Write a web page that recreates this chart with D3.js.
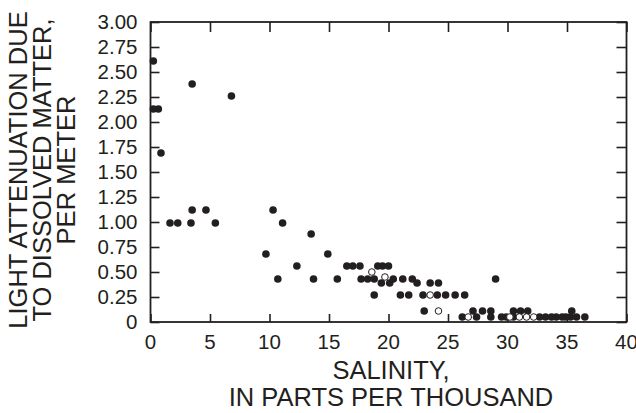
<!DOCTYPE html>
<html><head><meta charset="utf-8">
<script src="https://cdn.jsdelivr.net/npm/d3@7"></script>
<style>body{margin:0;background:#fff}svg text{font-family:"Liberation Sans",Arial,sans-serif;fill:#231f20}</style>
</head><body><svg id="c" width="636" height="413"></svg>
<script>
// Filled circles: [salinity (ppt), attenuation (per m)]
const filledSalinity = [0.24,0.24,0.66,0.88,3.5,6.8,
  1.64,2.29,3.4,5.45,3.5,4.66,10.3,11.1,9.7,10.7,12.3,
  13.5,14.9,13.7,15.7,
  16.5,17.0,17.6,19.1,19.5,20.0,
  17.7,18.25,18.8,20.4,21.2,22.0,
  19.4,20.1,22.4,23.5,24.2,
  18.8,21.0,21.7,22.9,24.1,24.8,25.6,26.4,
  23.0,29.0,
  27.1,27.9,28.6,30.5,31.1,31.7,35.4,
  26.2,27.4,28.6,29.5,29.9,30.5,32.7,33.2,33.7,34.1,34.6,34.9,35.3,35.8,36.5];
const filledAttenuation = [2.61,2.13,2.13,1.69,2.38,2.26,
  0.99,0.99,0.99,0.99,1.12,1.12,1.12,0.99,0.68,0.43,0.56,
  0.88,0.68,0.43,0.43,
  0.56,0.56,0.56,0.56,0.56,0.56,
  0.43,0.43,0.43,0.43,0.43,0.43,
  0.39,0.39,0.39,0.39,0.39,
  0.27,0.27,0.27,0.27,0.27,0.27,0.27,0.27,
  0.11,0.43,
  0.11,0.11,0.11,0.11,0.11,0.11,0.11,
  0.05,0.05,0.05,0.05,0.05,0.05,0.05,0.05,0.05,0.05,0.05,0.05,0.05,0.05,0.05];
// Open circles
const openSalinity = [18.6,19.7,23.5,24.2,26.7,30.2,31.0,31.6,32.2];
const openAttenuation = [0.50,0.45,0.27,0.11,0.05,0.05,0.05,0.05,0.05];

const xTicks = [0,5,10,15,20,25,30,35,40];
const yTicks = [0,0.25,0.5,0.75,1,1.25,1.5,1.75,2,2.25,2.5,2.75,3];
const xTitle = ["SALINITY,","IN PARTS PER THOUSAND"];
const yTitle = ["LIGHT ATTENUATION DUE","TO DISSOLVED MATTER,","PER METER"];

const svg = d3.select("#c");
const L=150.5, R=626.5, T=22, B=322;
const x = d3.scaleLinear().domain([0,40]).range([L,R]);
const y = d3.scaleLinear().domain([0,3]).range([B,T]);
const ink="#231f20";
const yFmt = v => v===0 ? "0" : d3.format(".2f")(v);

// ticks (inward on all four sides)
const gb = svg.append("g").attr("transform",`translate(0,${B})`)
  .call(d3.axisTop(x).tickValues(xTicks).tickSize(8).tickFormat(""));
const gt = svg.append("g").attr("transform",`translate(0,${T})`)
  .call(d3.axisBottom(x).tickValues(xTicks).tickSize(10).tickFormat(""));
const gl = svg.append("g").attr("transform",`translate(${L},0)`)
  .call(d3.axisRight(y).tickValues(yTicks).tickSize(9).tickFormat(""));
const gr = svg.append("g").attr("transform",`translate(${R},0)`)
  .call(d3.axisLeft(y).tickValues(yTicks).tickSize(10).tickFormat(""));
[gb,gt,gl,gr].forEach(g=>{g.select(".domain").remove();
  g.selectAll(".tick line").attr("stroke",ink).attr("stroke-width",1.6);});

svg.append("rect").attr("x",L).attr("y",T).attr("width",R-L).attr("height",B-T)
  .attr("fill","none").attr("stroke",ink).attr("stroke-width",1.8);

// tick labels
svg.append("g").selectAll("text").data(xTicks).join("text")
  .attr("x",d=>x(d)).attr("y",349).attr("text-anchor","middle")
  .attr("font-size",20.5).text(d=>d);
svg.append("g").selectAll("text").data(yTicks).join("text")
  .attr("x",137.5).attr("y",d=>y(d)).attr("dy","0.36em").attr("text-anchor","end")
  .attr("font-size",20.5).text(yFmt);

// titles
svg.append("g").selectAll("text").data(xTitle).join("text")
  .attr("x",391).attr("y",(d,i)=>378.5+i*27).attr("text-anchor","middle")
  .attr("font-size",25.5).text(d=>d);
svg.append("g").selectAll("text").data(yTitle).join("text")
  .attr("transform",(d,i)=>`translate(${27+i*24},170) rotate(-90)`)
  .attr("text-anchor","middle").attr("font-size",25.5).text(d=>d);

// points
const filled = filledSalinity.map((s,i)=>({s,a:filledAttenuation[i]}));
const open = openSalinity.map((s,i)=>({s,a:openAttenuation[i]}));
svg.append("g").selectAll("circle").data(filled).join("circle")
  .attr("cx",d=>x(d.s)).attr("cy",d=>y(d.a)).attr("r",3.8).attr("fill",ink);
svg.append("g").selectAll("circle").data(open).join("circle")
  .attr("cx",d=>x(d.s)).attr("cy",d=>y(d.a)).attr("r",3.3)
  .attr("fill","#fff").attr("stroke",ink).attr("stroke-width",1);
</script></body></html>
